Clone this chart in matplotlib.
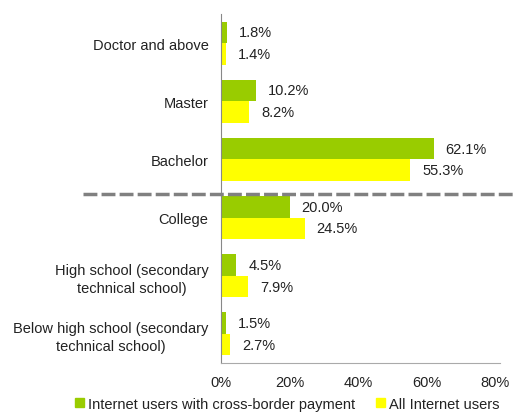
import matplotlib
matplotlib.use("Agg")
import matplotlib.pyplot as plt
from matplotlib.patches import Patch
import numpy as np

plt.rcParams['font.family'] = ['Liberation Sans', 'DejaVu Sans']

categories = ["Doctor and above", "Master", "Bachelor", "College",
              "High school (secondary\ntechnical school)",
              "Below high school (secondary\ntechnical school)"]
cross_border = [1.8, 10.2, 62.1, 20.0, 4.5, 1.5]
all_users = [1.4, 8.2, 55.3, 24.5, 7.9, 2.7]
series_names = ["Internet users with cross-border payment", "All Internet users"]
xticks = [0, 20, 40, 60, 80]

green = "#99CC00"
yellow = "#FFFF00"
text_color = "#222222"
fs = 10.5

fig = plt.figure(figsize=(5.17, 4.14), dpi=100)
ax = fig.add_axes([221/517, 1-364/414, 274/517, 349/414])

y = np.arange(len(categories))
h = 0.37
b1 = ax.barh(y - h/2, cross_border, height=h, color=green)
b2 = ax.barh(y + h/2, all_users, height=h, color=yellow)

for bars, vals in ((b1, cross_border), (b2, all_users)):
    for bar, v in zip(bars, vals):
        ax.annotate(f"{v:.1f}%", (bar.get_width(), bar.get_y() + bar.get_height()/2),
                    xytext=(8.5, 0), textcoords="offset points", va="center", ha="left",
                    fontsize=fs, color=text_color)

ax.set_ylim(len(categories) - 0.5, -0.5)
ax.set_xlim(0, 80)
ax.set_xticks(xticks)
ax.set_xticklabels([f"{t}%" for t in xticks], fontsize=fs, color=text_color)
ax.set_yticks(y)
ax.set_yticklabels(categories, fontsize=fs, color=text_color, ha="right",
                   multialignment="center", linespacing=1.35)
ax.tick_params(axis="both", length=0)
ax.tick_params(axis="y", pad=9)
ax.tick_params(axis="x", pad=9)
for s in ("top", "right"):
    ax.spines[s].set_visible(False)
ax.spines["left"].set_color("#888888")
ax.spines["bottom"].set_color("#aaaaaa")
ax.spines["bottom"].set_bounds(0, 81.5)

# dashed separator between Bachelor and College
trans = matplotlib.transforms.blended_transform_factory(ax.transAxes, ax.transData)
ax.plot([(83-221)/274, (516-221)/274], [2.6, 2.6], transform=trans, clip_on=False,
        color="#808080", lw=2.5, linestyle=(0, (4, 1.2)), zorder=5)

handles = [Patch(color=green), Patch(color=yellow)]
fig.legend(handles, series_names, loc="center", bbox_to_anchor=(0.556, 0.022), ncol=2,
           frameon=False, fontsize=fs, handlelength=0.6, handleheight=0.6,
           handletextpad=0.3, columnspacing=1.4, labelcolor=text_color)

fig.savefig("out.png", dpi=100)
